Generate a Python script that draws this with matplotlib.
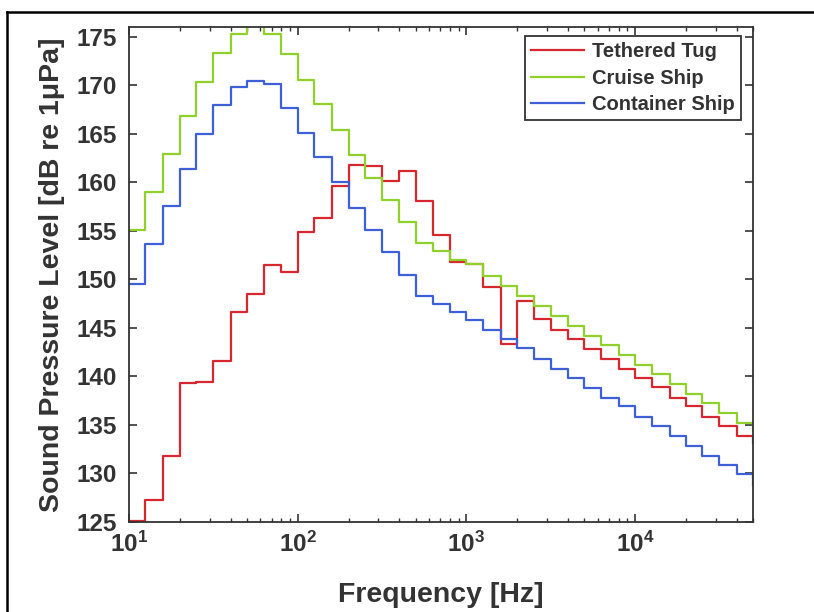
import matplotlib
matplotlib.use("Agg")
import matplotlib.pyplot as plt
from matplotlib.lines import Line2D

# Third-octave band edges [Hz]
freq = [10, 12.5, 16, 20, 25, 31.5, 40, 50, 63, 80, 100, 125, 160, 200, 250, 315,
        400, 500, 630, 800, 1000, 1250, 1600, 2000, 2500, 3150, 4000, 5000, 6300,
        8000, 10000, 12500, 16000, 20000, 25000, 31500, 40000, 50000]

tug = [125.1, 127.2, 131.8, 139.3, 139.4, 141.6, 146.6, 148.5, 151.5, 150.8,
       154.9, 156.3, 159.6, 161.8, 161.7, 160.1, 161.2, 158.1, 154.6, 151.8,
       151.6, 149.2, 143.3, 147.8, 145.9, 144.8, 143.8, 142.8, 141.8, 140.8,
       139.8, 138.9, 137.8, 136.9, 135.8, 134.9, 133.8, 133.1]

cruise = [155.1, 159.0, 162.9, 166.8, 170.4, 173.4, 175.3, 176.2, 175.35, 173.2,
          170.6, 168.1, 165.4, 162.8, 160.5, 158.2, 155.9, 153.7, 152.9, 152.0,
          151.6, 150.3, 149.3, 148.3, 147.3, 146.2, 145.2, 144.2, 143.2, 142.2,
          141.2, 140.2, 139.2, 138.2, 137.2, 136.2, 135.2, 134.5]

container = [149.5, 153.6, 157.6, 161.4, 165.0, 168.0, 169.8, 170.5, 170.1, 167.7,
             165.1, 162.6, 160.0, 157.4, 155.1, 152.8, 150.5, 148.3, 147.5, 146.6,
             145.8, 144.8, 143.8, 142.9, 141.8, 140.8, 139.8, 138.8, 137.8, 136.9,
             135.8, 134.9, 133.8, 132.8, 131.8, 130.8, 129.9, 128.8]

series_names = ["Tethered Tug", "Cruise Ship", "Container Ship"]
series_colors = ["#d8262e", "#8fd02a", "#3d5fd8"]

yticks = [125, 130, 135, 140, 145, 150, 155, 160, 165, 170, 175]
xticks = [10, 100, 1000, 10000]
xticklabels = [r"$\mathbf{10^{1}}$", r"$\mathbf{10^{2}}$", r"$\mathbf{10^{3}}$", r"$\mathbf{10^{4}}$"]

plt.rcParams["font.family"] = ["Liberation Sans", "DejaVu Sans"]
plt.rcParams["font.weight"] = "bold"
plt.rcParams["mathtext.fontset"] = "custom"
plt.rcParams["mathtext.bf"] = "Liberation Sans:bold"
plt.rcParams["mathtext.rm"] = "Liberation Sans:bold"

txt = "#333333"
fig = plt.figure(figsize=(8.14, 6.12), dpi=100)
ax = fig.add_axes([129 / 814, 1 - 521.7 / 612, (753.3 - 129) / 814, (521.7 - 27.3) / 612])

for vals, name, col in zip([tug, cruise, container], series_names, series_colors):
    ax.step(freq, vals, where="post", color=col, lw=1.6, label=name)

ax.set_xscale("log")
ax.set_xlim(10, 10 ** 4.7)
ax.set_ylim(125, 176)
ax.set_yticks(yticks)
ax.set_xticks(xticks)
ax.set_xticklabels(xticklabels)

ax.tick_params(axis="both", which="both", direction="in", top=True, right=True,
               colors=txt, labelcolor=txt)
ax.tick_params(axis="both", which="major", length=6, width=1.2, labelsize=17.5)
ax.tick_params(axis="y", which="major", pad=9)
ax.tick_params(axis="x", which="major", pad=7)
ax.tick_params(axis="x", which="minor", length=3, width=1)
for sp in ax.spines.values():
    sp.set_color(txt)
    sp.set_linewidth(1.3)
for lab in ax.get_yticklabels():
    lab.set_fontweight("bold")

ax.set_xlabel("Frequency [Hz]", fontsize=20.5, fontweight="bold", color=txt, labelpad=18)
ax.set_ylabel("Sound Pressure Level [dB re 1μPa]", fontsize=20.5, fontweight="bold",
              color=txt, labelpad=8)

leg = ax.legend(loc="upper right", bbox_to_anchor=(740.7 / 814, 1 - 36 / 612),
                bbox_transform=fig.transFigure, borderaxespad=0, fancybox=False,
                framealpha=1, edgecolor=txt, fontsize=14.5, handlelength=2.6,
                handletextpad=0.4, labelspacing=0.38, borderpad=0.3)
leg.get_frame().set_linewidth(1.3)
for t in leg.get_texts():
    t.set_color(txt)
    t.set_fontweight("bold")

# outer frame of the picture
fig.add_artist(Line2D([6.7 / 814, 1], [1 - 11.7 / 612] * 2, transform=fig.transFigure,
                      color="black", lw=1.8))
fig.add_artist(Line2D([6.7 / 814] * 2, [0, 1 - 11.7 / 612], transform=fig.transFigure,
                      color="black", lw=1.8))

fig.savefig("out.png", dpi=100)
